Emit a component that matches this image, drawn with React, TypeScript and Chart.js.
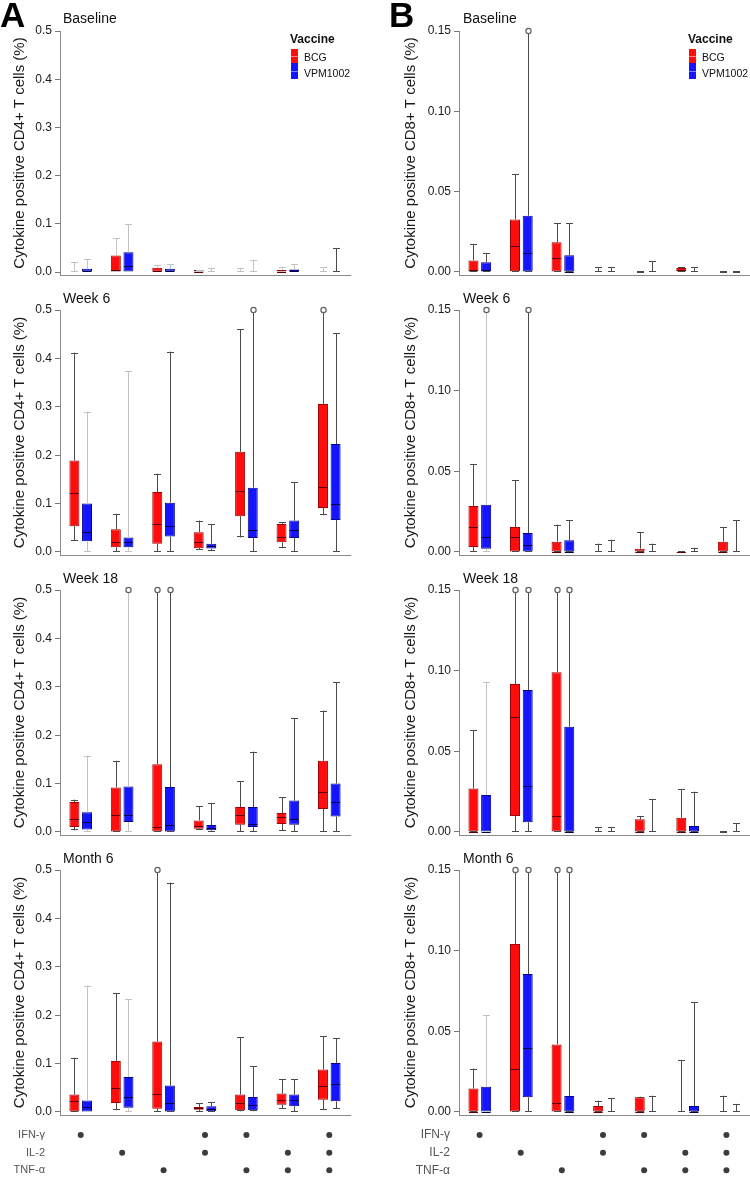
import React, { useEffect, useRef } from "react";
import { Chart, registerables } from "chart.js";

Chart.register(...registerables);

const FONT = 'Arial, "Liberation Sans", Helvetica, sans-serif';

// ---------- data ----------
const categories = [
  "IFN-γ+",
  "IL-2+",
  "TNF-α+",
  "IFN-γ+IL-2+",
  "IFN-γ+TNF-α+",
  "IL-2+TNF-α+",
  "IFN-γ+IL-2+TNF-α+",
];
const vaccines = ["BCG", "VPM1002"];
const timepoints = ["Baseline", "Week 6", "Week 18", "Month 6"];
const cytokines = ["IFN-γ", "IL-2", "TNF-α"];
const ifngRow = [1, 0, 0, 1, 1, 0, 1];
const il2Row = [0, 1, 0, 1, 0, 1, 1];
const tnfRow = [0, 0, 1, 0, 1, 1, 1];
const cd4Ticks = [0, 0.1, 0.2, 0.3, 0.4, 0.5];
const cd8Ticks = [0, 0.05, 0.1, 0.15];

// each box: [min, q1, median, q3, max]; outliers = category indices whose max is drawn as an open circle
const cd4BaselineBCG = [
  [0, 0, 0, 0, 0.021],
  [0, 0, 0.004, 0.034, 0.07],
  [0, 0, 0.002, 0.009, 0.015],
  [0, 0, 0.001, 0.004, 0.005],
  [0, 0, 0, 0, 0.009],
  [0, 0, 0.001, 0.004, 0.011],
  [0, 0, 0, 0, 0.01],
];
const cd4BaselineVPM = [
  [0, 0, 0.002, 0.007, 0.026],
  [0, 0, 0.013, 0.041, 0.1],
  [0, 0, 0.002, 0.007, 0.016],
  [0, 0, 0, 0, 0.009],
  [0, 0, 0, 0, 0.025],
  [0, 0, 0.002, 0.005, 0.016],
  [0, 0, 0, 0, 0.05],
];
const cd4BaselineBCGOut: number[] = [];
const cd4BaselineVPMOut: number[] = [];

const cd4Week6BCG = [
  [0.023, 0.053, 0.122, 0.189, 0.412],
  [0, 0.01, 0.021, 0.047, 0.079],
  [0, 0.017, 0.058, 0.124, 0.162],
  [0.005, 0.008, 0.02, 0.041, 0.065],
  [0.03, 0.074, 0.127, 0.207, 0.46],
  [0.008, 0.02, 0.032, 0.058, 0.062],
  [0.076, 0.091, 0.135, 0.306, 0.5],
];
const cd4Week6VPM = [
  [0, 0.022, 0.041, 0.1, 0.29],
  [0, 0.01, 0.021, 0.03, 0.373],
  [0, 0.032, 0.054, 0.102, 0.414],
  [0.003, 0.007, 0.012, 0.017, 0.058],
  [0, 0.029, 0.046, 0.133, 0.5],
  [0, 0.029, 0.045, 0.065, 0.144],
  [0, 0.066, 0.1, 0.223, 0.452],
];
const cd4Week6BCGOut = [6];
const cd4Week6VPMOut = [4];

const cd4Week18BCG = [
  [0.0034, 0.0103, 0.0275, 0.062, 0.067],
  [0, 0, 0.036, 0.092, 0.147],
  [0, 0, 0.0103, 0.14, 0.5],
  [0.005, 0.0069, 0.0117, 0.024, 0.053],
  [0, 0.015, 0.036, 0.0516, 0.1045],
  [0.0028, 0.0165, 0.032, 0.039, 0.072],
  [0, 0.0475, 0.0825, 0.147, 0.251],
];
const cd4Week18VPM = [
  [0, 0.005, 0.0206, 0.041, 0.158],
  [0, 0.0206, 0.036, 0.094, 0.5],
  [0, 0, 0.015, 0.093, 0.5],
  [0, 0.0034, 0.0083, 0.0144, 0.06],
  [0, 0.0103, 0.017, 0.0516, 0.166],
  [0, 0.015, 0.0275, 0.065, 0.235],
  [0, 0.032, 0.061, 0.1, 0.309],
];
const cd4Week18BCGOut = [2];
const cd4Week18VPMOut = [1, 2];

const cd4Month6BCG = [
  [0, 0, 0.022, 0.036, 0.112],
  [0.0034, 0.0186, 0.0497, 0.1055, 0.245],
  [0, 0.0069, 0.0366, 0.1455, 0.5],
  [0, 0.0048, 0.0076, 0.0103, 0.0186],
  [0.0014, 0.0034, 0.0193, 0.036, 0.154],
  [0.0069, 0.0152, 0.0255, 0.038, 0.0676],
  [0.0048, 0.0255, 0.053, 0.0876, 0.157],
];
const cd4Month6VPM = [
  [0, 0, 0.011, 0.024, 0.261],
  [0, 0.009, 0.03, 0.0724, 0.233],
  [0, 0, 0.0193, 0.0545, 0.474],
  [0, 0.0014, 0.0055, 0.0117, 0.0207],
  [0.0014, 0.0034, 0.0152, 0.031, 0.095],
  [0, 0.0117, 0.024, 0.036, 0.0676],
  [0.0069, 0.022, 0.0586, 0.1014, 0.152],
];
const cd4Month6BCGOut = [2];
const cd4Month6VPMOut: number[] = [];

const cd8BaselineBCG = [
  [0, 0, 0.001, 0.0072, 0.0175],
  [0, 0.0005, 0.016, 0.0327, 0.061],
  [0, 0, 0.0088, 0.0185, 0.0302],
  [0, 0, 0, 0, 0.003],
  [0, 0, 0, 0, 0],
  [0, 0, 0.001, 0.0025, 0.003],
  [0, 0, 0, 0, 0],
];
const cd8BaselineVPM = [
  [0, 0, 0.001, 0.006, 0.0117],
  [0, 0, 0.0119, 0.035, 0.15],
  [0, 0, 0, 0.0104, 0.0302],
  [0, 0, 0, 0, 0.003],
  [0, 0, 0, 0, 0.0066],
  [0, 0, 0, 0, 0.003],
  [0, 0, 0, 0, 0],
];
const cd8BaselineBCGOut: number[] = [];
const cd8BaselineVPMOut = [1];

const cd8Week6BCG = [
  [0, 0.0031, 0.0153, 0.0285, 0.0545],
  [0, 0, 0.0093, 0.0155, 0.0444],
  [0, 0, 0, 0.0064, 0.017],
  [0, 0, 0, 0, 0.0052],
  [0, 0, 0, 0.002, 0.0124],
  [0, 0, 0, 0.0003, 0.0006],
  [0, 0, 0, 0.0064, 0.0155],
];
const cd8Week6VPM = [
  [0, 0.002, 0.0095, 0.0293, 0.15],
  [0, 0, 0.0045, 0.0118, 0.15],
  [0, 0, 0, 0.0072, 0.0196],
  [0, 0, 0, 0, 0.0076],
  [0, 0, 0, 0, 0.0052],
  [0, 0, 0, 0, 0.0027],
  [0, 0, 0, 0, 0.0196],
];
const cd8Week6BCGOut: number[] = [];
const cd8Week6VPMOut = [0, 1];

const cd8Week18BCG = [
  [0, 0, 0, 0.0269, 0.0632],
  [0, 0.0099, 0.0711, 0.0917, 0.15],
  [0, 0, 0.0099, 0.099, 0.15],
  [0, 0, 0, 0, 0.0029],
  [0, 0, 0, 0.0079, 0.0099],
  [0, 0, 0, 0.0089, 0.0264],
  [0, 0, 0, 0, 0],
];
const cd8Week18VPM = [
  [0, 0, 0, 0.0229, 0.0928],
  [0, 0.006, 0.0287, 0.088, 0.15],
  [0, 0, 0, 0.0653, 0.15],
  [0, 0, 0, 0, 0.0029],
  [0, 0, 0, 0, 0.0202],
  [0, 0, 0, 0.0037, 0.025],
  [0, 0, 0, 0, 0.0054],
];
const cd8Week18BCGOut = [1, 2];
const cd8Week18VPMOut = [1, 2];

const cd8Month6BCG = [
  [0, 0, 0, 0.0145, 0.0269],
  [0, 0, 0.0264, 0.1041, 0.15],
  [0, 0, 0.0054, 0.0419, 0.15],
  [0, 0, 0, 0.0037, 0.007],
  [0, 0, 0, 0.0091, 0.0095],
  [0, 0, 0, 0, 0.0322],
  [0, 0, 0, 0, 0.0101],
];
const cd8Month6VPM = [
  [0, 0, 0, 0.0157, 0.0601],
  [0, 0.0091, 0.0399, 0.0855, 0.15],
  [0, 0, 0, 0.0099, 0.15],
  [0, 0, 0, 0, 0.0085],
  [0, 0, 0, 0, 0.0101],
  [0, 0, 0, 0.0037, 0.068],
  [0, 0, 0, 0, 0.005],
];
const cd8Month6BCGOut = [1, 2];
const cd8Month6VPMOut = [1, 2];

// ---------- layout / style ----------
const RED = "#ff0d0d";
const RED_EDGE = "#a00000";
const RED_MED = "#5a0000";
const BLUE = "#1414ff";
const BLUE_EDGE = "#00008c";
const BLUE_MED = "#000040";
const WHISKER = "#4a4a4a";
const WHISKER_LIGHT = "#c2c2c2";

const columns = {
  A: {
    canvasLeft: 0,
    canvasWidth: 360,
    padRight: 10,
    axisWidth: 60,
    titlePad: 11,
    yMax: 0.5,
    yMin: -0.0062,
    ticks: cd4Ticks,
    decimals: 1,
    yTitle: "Cytokine positive CD4+ T cells (%)",
    letterX: 0,
    titleX: 63,
    legendX: 290,
    dotPad: 15,
    dotFont: 11,
  },
  B: {
    canvasLeft: 375,
    canvasWidth: 375,
    padRight: 0,
    axisWidth: 84,
    titlePad: 27,
    yMax: 0.15,
    yMin: -0.00187,
    ticks: cd8Ticks,
    decimals: 2,
    yTitle: "Cytokine positive CD8+ T cells (%)",
    letterX: 389,
    titleX: 463,
    legendX: 688,
    dotPad: 9,
    dotFont: 12,
  },
};

const rows = [
  { top: 31, axis: 275, titleTop: 11 },
  { top: 310, axis: 555, titleTop: 291 },
  { top: 590, axis: 835, titleTop: 571 },
  { top: 870, axis: 1115, titleTop: 851 },
];

type ColKey = "A" | "B";
interface PanelSpec {
  col: ColKey;
  row: number;
  bcg: number[][];
  vpm: number[][];
  bcgOut: number[];
  vpmOut: number[];
  lightBcg: number[];
  lightVpm: number[];
}

const panels: PanelSpec[] = [
  { col: "A", row: 0, bcg: cd4BaselineBCG, vpm: cd4BaselineVPM, bcgOut: cd4BaselineBCGOut, vpmOut: cd4BaselineVPMOut, lightBcg: [0, 1, 2, 3, 4, 5, 6], lightVpm: [0, 1, 2, 3, 4, 5] },
  { col: "A", row: 1, bcg: cd4Week6BCG, vpm: cd4Week6VPM, bcgOut: cd4Week6BCGOut, vpmOut: cd4Week6VPMOut, lightBcg: [], lightVpm: [0, 1] },
  { col: "A", row: 2, bcg: cd4Week18BCG, vpm: cd4Week18VPM, bcgOut: cd4Week18BCGOut, vpmOut: cd4Week18VPMOut, lightBcg: [], lightVpm: [0, 1] },
  { col: "A", row: 3, bcg: cd4Month6BCG, vpm: cd4Month6VPM, bcgOut: cd4Month6BCGOut, vpmOut: cd4Month6VPMOut, lightBcg: [], lightVpm: [0, 1] },
  { col: "B", row: 0, bcg: cd8BaselineBCG, vpm: cd8BaselineVPM, bcgOut: cd8BaselineBCGOut, vpmOut: cd8BaselineVPMOut, lightBcg: [], lightVpm: [] },
  { col: "B", row: 1, bcg: cd8Week6BCG, vpm: cd8Week6VPM, bcgOut: cd8Week6BCGOut, vpmOut: cd8Week6VPMOut, lightBcg: [], lightVpm: [0] },
  { col: "B", row: 2, bcg: cd8Week18BCG, vpm: cd8Week18VPM, bcgOut: cd8Week18BCGOut, vpmOut: cd8Week18VPMOut, lightBcg: [], lightVpm: [0] },
  { col: "B", row: 3, bcg: cd8Month6BCG, vpm: cd8Month6VPM, bcgOut: cd8Month6BCGOut, vpmOut: cd8Month6VPMOut, lightBcg: [], lightVpm: [0] },
];

// ---------- box & whisker plugin ----------
const boxWhiskerPlugin = {
  id: "boxWhisker",
  afterDatasetsDraw(chart: any) {
    const ctx = chart.ctx as CanvasRenderingContext2D;
    const ys = chart.scales.y;
    chart.data.datasets.forEach((ds: any, di: number) => {
      const meta = chart.getDatasetMeta(di);
      meta.data.forEach((el: any, i: number) => {
        const st = ds.stats[i];
        if (!st) return;
        const [mn, q1, md, q3, mx] = st;
        const { x, width } = el.getProps(["x", "width"], true);
        const isOut = ds.outliers.includes(i);
        const px = Math.round(x) + 0.5;
        const capHalf = 3.5;
        const r = 2.6;
        const yMn = ys.getPixelForValue(mn);
        const yQ1 = ys.getPixelForValue(q1);
        const yMd = ys.getPixelForValue(md);
        const yQ3 = ys.getPixelForValue(q3);
        const yMx = ys.getPixelForValue(mx);
        ctx.save();
        ctx.lineWidth = 1;
        ctx.strokeStyle = ds.light.includes(i) ? WHISKER_LIGHT : WHISKER;
        ctx.beginPath();
        // upper whisker
        if (mx > q3) {
          ctx.moveTo(px, yQ3);
          ctx.lineTo(px, isOut ? yMx + r : yMx);
        }
        if (!isOut) {
          ctx.moveTo(px - capHalf, Math.round(yMx) + 0.5);
          ctx.lineTo(px + capHalf, Math.round(yMx) + 0.5);
        }
        // lower whisker
        if (q1 > mn) {
          ctx.moveTo(px, yQ1);
          ctx.lineTo(px, yMn);
        }
        ctx.moveTo(px - capHalf, Math.round(yMn) - 0.5);
        ctx.lineTo(px + capHalf, Math.round(yMn) - 0.5);
        ctx.stroke();
        if (isOut) {
          ctx.beginPath();
          ctx.arc(px, yMx, r, 0, Math.PI * 2);
          ctx.fillStyle = "#ffffff";
          ctx.fill();
          ctx.lineWidth = 1.2;
          ctx.strokeStyle = "#606060";
          ctx.stroke();
        }
        // median
        if (q3 > q1) {
          ctx.beginPath();
          ctx.lineWidth = 1;
          ctx.strokeStyle = ds.medianColor;
          const ym = Math.round(yMd) + 0.5;
          ctx.moveTo(x - width / 2 + 0.5, ym);
          ctx.lineTo(x + width / 2 - 0.5, ym);
          ctx.stroke();
        }
        ctx.restore();
      });
    });
  },
};

function BoxPanel({ spec }: { spec: PanelSpec }) {
  const ref = useRef<HTMLCanvasElement>(null);
  const col = columns[spec.col];
  const row = rows[spec.row];
  const padTop = 14;
  const padBottom = 3;
  const height = row.axis - row.top + padTop + padBottom;
  useEffect(() => {
    const chart = new Chart(ref.current as HTMLCanvasElement, {
      type: "bar",
      data: {
        labels: categories,
        datasets: [
          {
            label: vaccines[0],
            data: spec.bcg.map((b) => [b[1], b[3]]),
            stats: spec.bcg,
            outliers: spec.bcgOut,
            light: spec.lightBcg,
            medianColor: RED_MED,
            backgroundColor: RED,
            borderColor: RED_EDGE,
            borderWidth: 1,
            borderSkipped: false,
            categoryPercentage: 0.61,
            barPercentage: 0.79,
          } as any,
          {
            label: vaccines[1],
            data: spec.vpm.map((b) => [b[1], b[3]]),
            stats: spec.vpm,
            outliers: spec.vpmOut,
            light: spec.lightVpm,
            medianColor: BLUE_MED,
            backgroundColor: BLUE,
            borderColor: BLUE_EDGE,
            borderWidth: 1,
            borderSkipped: false,
            categoryPercentage: 0.61,
            barPercentage: 0.79,
          } as any,
        ],
      },
      options: {
        responsive: false,
        animation: false,
        layout: { padding: { top: padTop, bottom: padBottom, left: 0, right: col.padRight } },
        plugins: {
          legend: { display: false },
          tooltip: { enabled: false },
          title: { display: false },
        },
        scales: {
          x: {
            type: "category",
            offset: true,
            grid: { display: false },
            ticks: { display: false },
            border: { display: true, color: "#8a8a8a", width: 1 },
            afterFit: (s: any) => {
              s.height = 0;
              s.paddingLeft = 0;
              s.paddingRight = 0;
            },
          },
          y: {
            type: "linear",
            min: col.yMin,
            max: col.yMax,
            afterBuildTicks: (a: any) => {
              a.ticks = col.ticks.map((v) => ({ value: v }));
            },
            ticks: {
              callback: (v: any) => Number(v).toFixed(col.decimals),
              font: { family: FONT, size: 12 },
              color: "#1a1a1a",
              padding: 3,
            },
            grid: {
              display: true,
              drawOnChartArea: false,
              drawTicks: true,
              tickLength: 5,
              color: "#777777",
            },
            border: { display: true, color: "#8a8a8a", width: 1 },
            title: {
              display: true,
              text: col.yTitle,
              font: { family: FONT, size: 15 },
              color: "#1a1a1a",
              padding: { top: col.titlePad, bottom: 0 },
            },
            afterFit: (s: any) => {
              s.width = col.axisWidth;
              s.paddingTop = 0;
              s.paddingBottom = 0;
            },
          },
        },
      } as any,
      plugins: [boxWhiskerPlugin],
    });
    return () => chart.destroy();
  }, []);
  return (
    <canvas
      ref={ref}
      width={col.canvasWidth}
      height={height}
      style={{ position: "absolute", left: col.canvasLeft, top: row.top - padTop }}
    />
  );
}

function DotPanel({ colKey }: { colKey: ColKey }) {
  const ref = useRef<HTMLCanvasElement>(null);
  const col = columns[colKey];
  useEffect(() => {
    const pts: { x: number; y: number }[] = [];
    [ifngRow, il2Row, tnfRow].forEach((r, ri) =>
      r.forEach((v, i) => {
        if (v) pts.push({ x: i, y: ri });
      })
    );
    const chart = new Chart(ref.current as HTMLCanvasElement, {
      type: "scatter",
      data: {
        datasets: [
          {
            data: pts,
            pointRadius: 3,
            pointHoverRadius: 3,
            pointBackgroundColor: "#3c3c3c",
            pointBorderWidth: 0,
            clip: false,
          } as any,
        ],
      },
      options: {
        responsive: false,
        animation: false,
        layout: { padding: { top: 2, bottom: 0, left: 0, right: col.padRight } },
        plugins: { legend: { display: false }, tooltip: { enabled: false } },
        scales: {
          x: { type: "linear", min: -0.5, max: 6.5, display: false },
          y: {
            type: "linear",
            reverse: true,
            min: -0.684,
            max: 2.21,
            afterBuildTicks: (a: any) => {
              a.ticks = [0, 1, 2].map((v) => ({ value: v }));
            },
            ticks: {
              callback: (v: any) => cytokines[Number(v)],
              font: { family: FONT, size: col.dotFont },
              color: "#555555",
              padding: col.dotPad,
            },
            grid: { display: false, drawTicks: false },
            border: { display: false },
            afterFit: (s: any) => {
              s.width = col.axisWidth;
              s.paddingTop = 0;
              s.paddingBottom = 0;
            },
          },
        },
      } as any,
    });
    return () => chart.destroy();
  }, []);
  return (
    <canvas
      ref={ref}
      width={col.canvasWidth}
      height={57}
      style={{ position: "absolute", left: col.canvasLeft, top: 1120 }}
    />
  );
}

function Legend({ x }: { x: number }) {
  return (
    <>
      <div style={{ position: "absolute", left: x, top: 33, font: `bold 12px ${FONT}`, lineHeight: "12px", color: "#111", whiteSpace: "nowrap" }}>
        Vaccine
      </div>
      <div style={{ position: "absolute", left: x + 1, top: 48.5, width: 6.5, height: 14, background: RED }}>
        <div style={{ position: "absolute", left: 0, right: 0, top: 7, height: 1, background: "rgba(255,200,200,0.6)" }} />
      </div>
      <div style={{ position: "absolute", left: x + 1, top: 62.5, width: 6.5, height: 16.5, background: BLUE }}>
        <div style={{ position: "absolute", left: 0, right: 0, top: 8, height: 1, background: "rgba(200,200,255,0.6)" }} />
      </div>
      <div style={{ position: "absolute", left: x + 14, top: 51.8, font: `10.5px ${FONT}`, lineHeight: "10.5px", color: "#111", whiteSpace: "nowrap" }}>
        {vaccines[0]}
      </div>
      <div style={{ position: "absolute", left: x + 14, top: 67.8, font: `10.5px ${FONT}`, lineHeight: "10.5px", color: "#111", whiteSpace: "nowrap" }}>
        {vaccines[1]}
      </div>
    </>
  );
}

export default function App() {
  return (
    <div
      style={{
        position: "absolute",
        left: 0,
        top: 0,
        width: 750,
        height: 1177,
        overflow: "hidden",
        background: "#ffffff",
        fontFamily: FONT,
      }}
    >
      {panels.map((p) => (
        <BoxPanel key={p.col + p.row} spec={p} />
      ))}
      <DotPanel colKey="A" />
      <DotPanel colKey="B" />
      {(["A", "B"] as ColKey[]).map((c) => (
        <React.Fragment key={c}>
          <div style={{ position: "absolute", left: columns[c].letterX, top: -3, font: `bold 35px ${FONT}`, lineHeight: "35px", color: "#000" }}>
            {c}
          </div>
          {timepoints.map((t, i) => (
            <div
              key={t}
              style={{ position: "absolute", left: columns[c].titleX, top: rows[i].titleTop, font: `14px ${FONT}`, lineHeight: "14px", color: "#111", whiteSpace: "nowrap" }}
            >
              {t}
            </div>
          ))}
          <Legend x={columns[c].legendX} />
        </React.Fragment>
      ))}
    </div>
  );
}
